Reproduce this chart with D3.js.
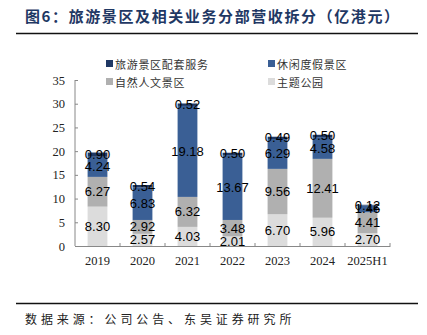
<!DOCTYPE html>
<html>
<head>
<meta charset="utf-8">
<script src="https://cdn.jsdelivr.net/npm/d3@7"></script>
<style>
  body { margin: 0; background: #fff; }
  svg { display: block; }
</style>
</head>
<body>
<div id="mychart"></div>
<script>
const years = ["2019", "2020", "2021", "2022", "2023", "2024", "2025H1"];
const seriesNames = ["主题公园", "自然人文景区", "休闲度假景区", "旅游景区配套服务"];
const themePark = [8.30, 2.57, 4.03, 2.01, 6.70, 5.96, 2.70];
const natural = [6.27, 2.92, 6.32, 3.48, 9.56, 12.41, 4.41];
const resort = [4.24, 6.83, 19.18, 13.67, 6.29, 4.58, 1.46];
const service = [0.90, 0.54, 0.52, 0.50, 0.49, 0.50, 0.12];
const yTicks = [0, 5, 10, 15, 20, 25, 30, 35];
const colors = ["#dcdcdc", "#b0b0b0", "#3a5f95", "#1f3864"];

const width = 427, height = 335;
const margin = { top: 80, right: 37, bottom: 89, left: 75 };

const svg = d3.select("#mychart")
    .append("svg")
    .attr("width", width)
    .attr("height", height);

// title + rules
svg.append("text")
    .attr("x", 25).attr("y", 22)
    .attr("font-family", "Noto Sans CJK SC")
    .attr("font-size", 15)
    .attr("font-weight", "bold")
    .attr("letter-spacing", 1.6)
    .attr("fill", "#1f3864")
    .text("图6：旅游景区及相关业务分部营收拆分（亿港元）");

svg.append("line").attr("x1", 16).attr("x2", 418).attr("y1", 33.5).attr("y2", 33.5)
    .attr("stroke", "#111").attr("stroke-width", 1.6);
svg.append("line").attr("x1", 16).attr("x2", 418).attr("y1", 303.5).attr("y2", 303.5)
    .attr("stroke", "#111").attr("stroke-width", 1.6);

svg.append("text")
    .attr("x", 25).attr("y", 324)
    .attr("font-family", "Noto Sans CJK SC")
    .attr("font-size", 12)
    .attr("letter-spacing", 3.9)
    .attr("fill", "#222")
    .text("数据来源：公司公告、东吴证券研究所");

const g = svg.append("g").attr("transform", `translate(${margin.left},${margin.top})`);
const w = width - margin.left - margin.right;
const h = height - margin.top - margin.bottom;

const table = years.map((y, i) => ({
    year: y,
    "主题公园": themePark[i],
    "自然人文景区": natural[i],
    "休闲度假景区": resort[i],
    "旅游景区配套服务": service[i]
}));
const stacked = d3.stack().keys(seriesNames)(table);

const x = d3.scaleBand().domain(years).range([0, w]).paddingInner(0.56).paddingOuter(0.28);
const xb = d3.scaleBand().domain(years).range([0, w]);
const y = d3.scaleLinear().domain([0, 35]).range([h, 0]);

stacked.forEach((s, k) => {
    g.selectAll(".bar" + k)
        .data(s)
        .enter()
        .append("rect")
        .attr("x", d => x(d.data.year))
        .attr("y", d => y(d[1]))
        .attr("width", x.bandwidth())
        .attr("height", d => y(d[0]) - y(d[1]))
        .attr("fill", colors[k]);
});

stacked.forEach((s, k) => {
    g.selectAll(".lab" + k)
        .data(s)
        .enter()
        .append("text")
        .attr("x", d => x(d.data.year) + x.bandwidth() / 2)
        .attr("y", d => y((d[0] + d[1]) / 2))
        .attr("text-anchor", "middle")
        .attr("dominant-baseline", "central")
        .attr("font-family", "Liberation Sans, Arial")
        .attr("font-size", 13)
        .attr("fill", "#000")
        .text(d => (d[1] - d[0]).toFixed(2));
});

// axes
const yAxis = g.append("g")
    .call(d3.axisLeft(y).tickValues(yTicks).tickSize(-3).tickPadding(14));
yAxis.select(".domain").attr("stroke", "#888").attr("d", `M0,${h}V0`);
yAxis.selectAll(".tick line").attr("stroke", "#888");
yAxis.selectAll("text")
    .attr("font-family", "Liberation Serif, Times New Roman")
    .attr("font-size", 12.5)
    .attr("fill", "#222")
    .attr("text-anchor", "end")
    .attr("dx", 4);

const xAxis = g.append("g")
    .attr("transform", `translate(0,${h})`)
    .call(d3.axisBottom(xb).tickSize(0).tickPadding(10));
xAxis.select(".domain").attr("stroke", "#888");
xAxis.selectAll("text")
    .attr("font-family", "Liberation Serif, Times New Roman")
    .attr("font-size", 12.5)
    .attr("fill", "#222");
g.append("g").selectAll("line")
    .data(years.slice(1).concat(["end"]))
    .enter()
    .append("line")
    .attr("x1", (d, i) => i < years.length - 1 ? xb(d) : w)
    .attr("x2", (d, i) => i < years.length - 1 ? xb(d) : w)
    .attr("y1", h).attr("y2", h - 3)
    .attr("stroke", "#888");

// legend
const legendOrder = ["旅游景区配套服务", "休闲度假景区", "自然人文景区", "主题公园"];
const legend = svg.append("g");
legendOrder.forEach((name, i) => {
    const lx = i % 2 === 0 ? 106 : 268;
    const ly = i < 2 ? 64 : 82;
    legend.append("rect")
        .attr("x", lx).attr("y", ly - 4)
        .attr("width", 7).attr("height", 7)
        .attr("fill", colors[seriesNames.indexOf(name)]);
    legend.append("text")
        .attr("x", lx + 9).attr("y", ly)
        .attr("dominant-baseline", "central")
        .attr("font-family", "Noto Sans CJK SC")
        .attr("font-size", 11)
        .attr("letter-spacing", 0.7)
        .attr("fill", "#333")
        .text(name);
});
</script>
</body>
</html>
